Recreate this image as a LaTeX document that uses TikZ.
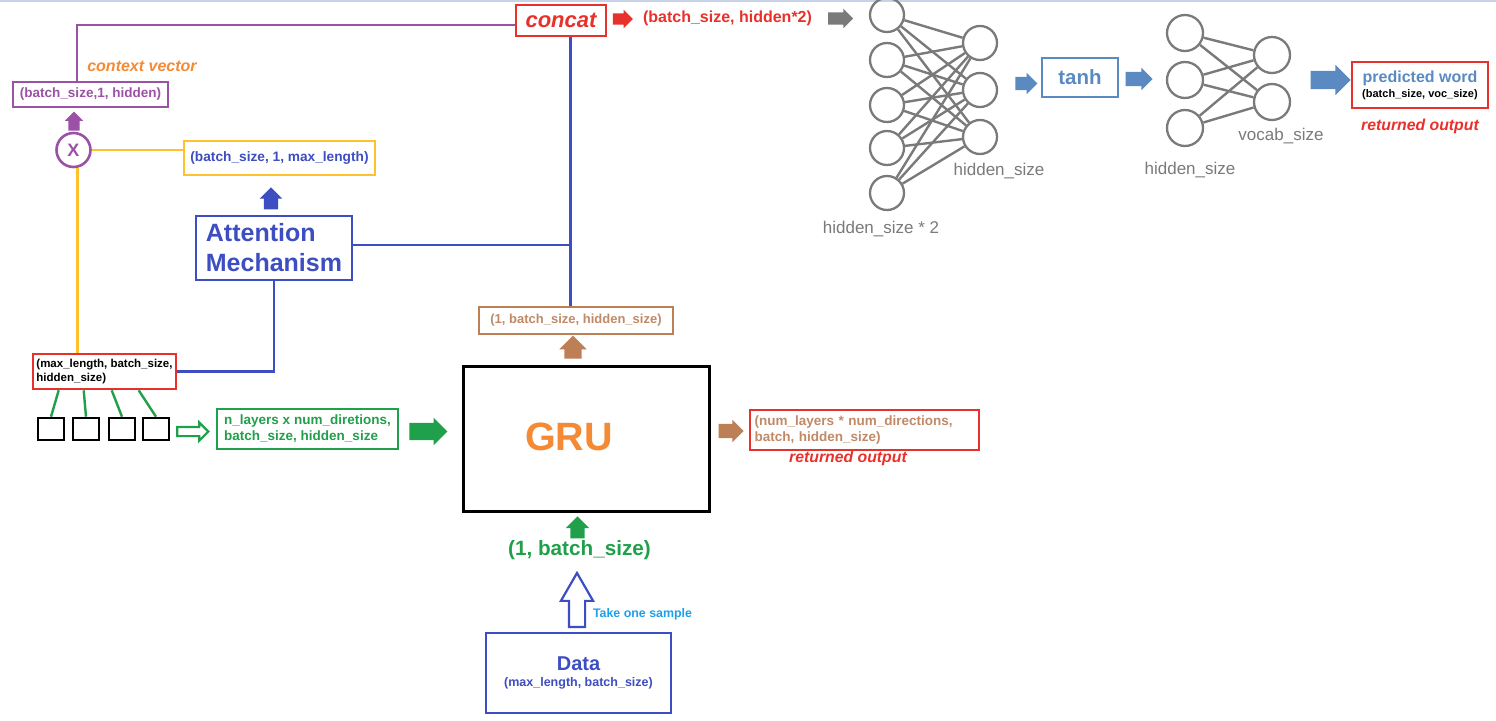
\documentclass[tikz,border=0pt]{standalone}
\usepackage{fontspec}
\setmainfont{Liberation Sans}
\usepackage{xcolor}
\usepackage{tikz}
\usetikzlibrary{shapes.arrows}
\definecolor{AttRed}{HTML}{E8312B}
\definecolor{AttPurple}{HTML}{9B52A6}
\definecolor{AttOrange}{HTML}{F58A35}
\definecolor{AttYellow}{HTML}{FFC12E}
\definecolor{AttBlue}{HTML}{3D4DC2}
\definecolor{AttGreen}{HTML}{21A04B}
\definecolor{AttBrown}{HTML}{BD7F55}
\definecolor{AttBrownTxt}{HTML}{C08A68}
\definecolor{NetGray}{HTML}{7A7A7A}
\definecolor{NetSteel}{HTML}{5B8AC2}
\definecolor{AttSky}{HTML}{1EA0E8}
\definecolor{TopRule}{HTML}{C9D3E8}
\newcommand{\fsz}[2]{\fontsize{#1}{#2}\selectfont}

\begin{document}
\begin{tikzpicture}[x=1pt,y=-1pt,
  box/.style={draw,line width=2.6pt,inner sep=0pt,align=center,font=\bfseries},
  fatarrow/.style 2 args={single arrow,draw=none,inner xsep=0pt,inner ysep=#1,single arrow head extend=#2},
  uparrow/.style 2 args={single arrow,draw=none,shape border rotate=90,inner ysep=0pt,inner xsep=#1,single arrow head extend=#2},
  hollowarrow/.style 2 args={single arrow,fill=white,line width=2.2pt,inner xsep=0pt,inner ysep=#1,single arrow head extend=#2},
  neuron/.style={circle,draw=NetGray,line width=2.3pt,minimum size=34pt,inner sep=0pt},
  synapse/.style={NetGray,line width=2.4pt},
  netlabel/.style={text=NetGray,font=\fsz{17}{19}},
  wire/.style={line width=2.4pt}]
\useasboundingbox (0,0) rectangle (1496,720);
\fill[white] (0,0) rectangle (1496,720);
\draw[TopRule,line width=1.5pt] (0,1) -- (1496,1);

\node[box,draw=AttRed,minimum width=90pt,minimum height=31pt,text=AttRed,font=\bfseries\itshape\fsz{22}{24}] (concat) at (561,20.5) {concat};
\node[fatarrow={5.5pt}{3.5pt},fill=AttRed,minimum height=20pt] (catarrow) at (620,19) {};
\node[text=AttRed,font=\bfseries\fsz{16}{18}] (catdim) at (727.5,18) {(batch\_size, hidden*2)};
\node[fatarrow={6pt}{3.5pt},fill=NetGray,minimum height=25pt] (netarrow) at (837.5,18.5) {};

\foreach \i/\y in {1/15,2/60,3/105,4/148,5/193}
  \node[neuron] (in\i) at (887,\y) {};
\foreach \j/\y in {1/43,2/90,3/137}
  \node[neuron] (hid\j) at (980,\y) {};
\foreach \i in {1,...,5}
  \foreach \j in {1,2,3}
    \draw[synapse] (in\i) -- (hid\j);
\node[netlabel] (hidlbl) at (999,171) {hidden\_size};
\node[netlabel] (inlbl) at (881,229) {hidden\_size * 2};

\node[fatarrow={6.5pt}{4pt},fill=NetSteel,minimum height=22pt] (tanhin) at (1023,83.5) {};
\node[box,draw=NetSteel,line width=2.2pt,minimum width=76pt,minimum height=39pt,text=NetSteel,font=\bfseries\fsz{20.5}{22}] (tanh) at (1080,77.5) {tanh};
\node[fatarrow={7pt}{4pt},fill=NetSteel,minimum height=27pt] (tanhout) at (1135.5,79) {};

\foreach \i/\y in {1/33,2/80,3/128}
  \node[neuron,minimum size=36pt] (hh\i) at (1185,\y) {};
\foreach \j/\y in {1/55,2/102}
  \node[neuron,minimum size=36pt] (voc\j) at (1272,\y) {};
\foreach \i in {1,2,3}
  \foreach \j in {1,2}
    \draw[synapse] (hh\i) -- (voc\j);
\node[netlabel] (voclbl) at (1281,136) {vocab\_size};
\node[netlabel] (hhlbl) at (1190,170) {hidden\_size};

\node[fatarrow={9pt}{6pt},fill=NetSteel,minimum height=40pt] (predarrow) at (1326,80) {};
\node[box,draw=AttRed,minimum width=136pt,minimum height=46pt] (pred) at (1420,85) {\fsz{16}{18}\color{NetSteel}predicted word\\[3pt]\fsz{11}{13}\color{black}(batch\_size, voc\_size)};
\node[text=AttRed,font=\bfseries\itshape\fsz{15.8}{18}] (predret) at (1420,126) {returned output};

\node[box,draw=AttPurple,minimum width=155pt,minimum height=25pt,text=AttPurple,font=\bfseries\fsz{13.5}{15}] (ctx) at (90.5,94.5) {(batch\_size,1, hidden)};
\node[text=AttOrange,font=\bfseries\itshape\fsz{16}{18}] (ctxlbl) at (142,66) {context vector};
\node[uparrow={5.5pt}{3.5pt},fill=AttPurple,minimum height=19pt] (ctxarrow) at (74,124) {};
\node[circle,draw=AttPurple,line width=2.6pt,minimum size=34pt,inner sep=0pt,text=AttPurple,font=\bfseries\fsz{18}{18}] (mult) at (73.5,150) {X};
\node[box,draw=AttYellow,minimum width=191pt,minimum height=34pt,text=AttBlue,font=\bfseries\fsz{13.7}{15}] (weights) at (279.5,158) {(batch\_size, 1, max\_length)};
\node[uparrow={7pt}{4pt},fill=AttBlue,minimum height=22pt] (attnarrow) at (271,202) {};
\node[box,draw=AttBlue,minimum width=156pt,minimum height=64pt,text=AttBlue,align=left,font=\bfseries\fsz{25}{30}] (attn) at (274,248) {Attention\\Mechanism};

\node[box,draw=AttRed,minimum width=143pt,minimum height=35pt,align=left,font=\bfseries\fsz{11.5}{14}] (enc) at (104.5,371.5) {(max\_length, batch\_size,\\hidden\_size)};
\foreach \i/\x in {1/51,2/86,3/122,4/156}
  \node[draw,line width=2.6pt,minimum width=26pt,minimum height=22pt,inner sep=0pt] (tok\i) at (\x,429) {};
\node[hollowarrow={3.5pt}{4.5pt},draw=AttGreen,minimum height=31pt] (tokarrow) at (190.5,431.5) {};
\node[box,draw=AttGreen,minimum width=181pt,minimum height=40pt,align=left,text=AttGreen,font=\bfseries\fsz{13.5}{16}] (hidden0) at (307.5,429) {n\_layers x num\_diretions,\\batch\_size, hidden\_size};
\node[fatarrow={8.5pt}{5pt},fill=AttGreen,minimum height=38pt] (h0arrow) at (424,431.5) {};

\node[box,draw=black,line width=3pt,minimum width=246pt,minimum height=145pt] (gru) at (586,438.5) {};
\node[text=AttOrange,font=\bfseries\fsz{39.5}{40}] (grulbl) at (569,437) {GRU};
\node[uparrow={8.5pt}{5pt},fill=AttBrown,minimum height=23pt] (outarrow) at (573,351.5) {};
\node[box,draw=AttBrown,minimum width=194pt,minimum height=27pt,text=AttBrownTxt,font=\bfseries\fsz{13}{15}] (gruout) at (576,320.5) {(1, batch\_size, hidden\_size)};
\node[fatarrow={7pt}{4pt},fill=AttBrown,minimum height=25pt] (hnarrow) at (727.5,431) {};
\node[box,draw=AttRed,minimum width=229pt,minimum height=40pt,text width=220pt,align=left,text=AttBrownTxt,font=\bfseries\fsz{13.5}{16}] (hidn) at (864.5,430) {(num\_layers * num\_directions,\\batch, hidden\_size)};
\node[text=AttRed,font=\bfseries\itshape\fsz{15.8}{18}] (hidnret) at (848,458) {returned output};

\node[uparrow={7pt}{4.5pt},fill=AttGreen,minimum height=22pt] (inarrow) at (577.5,531) {};
\node[text=AttGreen,font=\bfseries\fsz{20.7}{22}] (sample) at (579.5,550) {(1, batch\_size)};
\node[uparrow={7pt}{8pt},draw=AttBlue,fill=white,line width=2.2pt,single arrow tip angle=60,minimum height=54pt] (takearrow) at (577,607) {};
\node[text=AttSky,font=\bfseries\fsz{12.4}{14}] (takelbl) at (642.5,614) {Take one sample};
\node[box,draw=AttBlue,minimum width=185pt,minimum height=80pt,text=AttBlue] (data) at (578.5,673) {\fsz{20}{22}Data\\[4pt]\fsz{12.5}{14}(max\_length, batch\_size)};

\coordinate (vtop) at ([xshift=9.5pt]concat.south);
\draw[wire,AttPurple] ([xshift=-13.5pt]ctx.north) |- ([yshift=-4.5pt]concat.west);
\draw[wire,AttYellow] (mult.east) -- (mult.east -| weights.west);
\draw[wire,AttYellow] ([xshift=4pt]mult.south) -- ([xshift=4pt]mult.south |- enc.north);
\draw[wire,AttBlue] (vtop) -- (vtop |- gruout.north);
\draw[wire,AttBlue] ([yshift=3pt]attn.east) -- ([yshift=3pt]attn.east -| vtop);
\draw[wire,AttBlue] (attn.south) |- (enc.east);
\foreach \i/\dx in {1/27,2/52,3/80,4/107}
  \draw[wire,AttGreen] ([xshift=\dx pt]enc.south west) -- (tok\i.north);
\end{tikzpicture}
\end{document}
